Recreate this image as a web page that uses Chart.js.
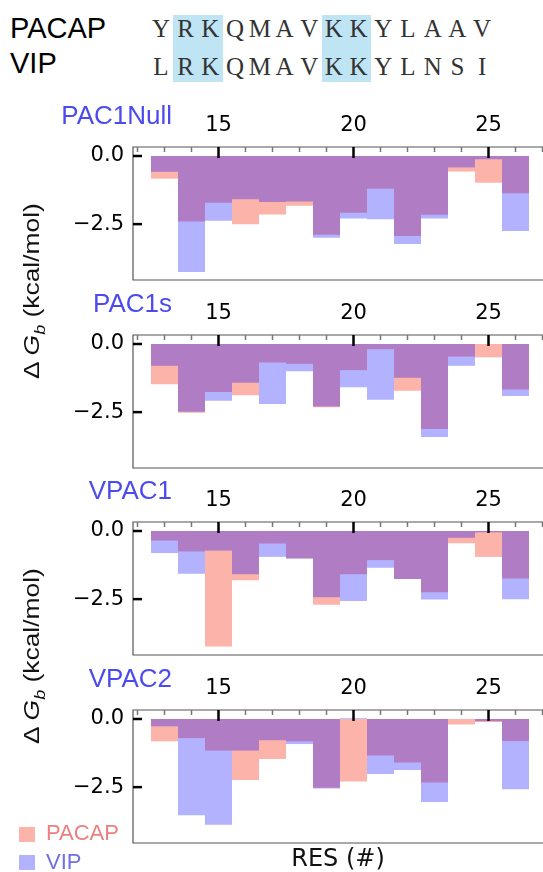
<!DOCTYPE html>
<html>
<head>
<meta charset="utf-8">
<script src="https://cdn.jsdelivr.net/npm/chart.js@4"></script>
<style>
  html, body { margin: 0; padding: 0; background: #fff; }
  body { position: relative; width: 543px; height: 872px; overflow: hidden; }
  .t { position: absolute; white-space: nowrap; }
  .hl { position: absolute; background: #bfe4f4; }
  canvas { position: absolute; left: 0; }
</style>
</head>
<body>
<script>
// residues 13..26 of the peptide
const residues = [13, 14, 15, 16, 17, 18, 19, 20, 21, 22, 23, 24, 25, 26];
const pacapSeq = ["Y", "R", "K", "Q", "M", "A", "V", "K", "K", "Y", "L", "A", "A", "V"];
const vipSeq = ["L", "R", "K", "Q", "M", "A", "V", "K", "K", "Y", "L", "N", "S", "I"];
const highlighted = [1, 2, 7, 8];

const panelNames = ["PAC1Null", "PAC1s", "VPAC1", "VPAC2"];

const pac1NullPACAP = [-0.83, -2.40, -1.72, -2.50, -2.15, -1.83, -2.89, -2.08, -1.20, -2.94, -2.16, -0.57, -0.98, -1.37];
const pac1NullVIP = [-0.58, -4.26, -2.38, -1.59, -1.69, -1.67, -3.00, -2.29, -2.32, -3.23, -2.29, -0.42, -0.12, -2.75];

const pac1sPACAP = [-1.48, -2.52, -1.76, -1.88, -0.68, -0.73, -2.32, -0.96, -0.19, -1.72, -3.12, -0.46, -0.49, -1.67];
const pac1sVIP = [-0.80, -2.49, -2.08, -1.42, -2.20, -1.00, -2.29, -1.59, -2.05, -1.24, -3.41, -0.80, 0.0, -1.91];

const vpac1PACAP = [-0.35, -0.75, -4.24, -1.81, -0.46, -1.01, -2.71, -1.59, -1.07, -1.76, -2.25, -0.45, -0.95, -1.74];
const vpac1VIP = [-0.81, -1.57, -0.72, -1.59, -0.95, -1.01, -2.43, -2.57, -1.35, -1.76, -2.51, -0.25, -0.05, -2.50];

const vpac2PACAP = [-0.82, -0.70, -1.16, -2.24, -1.47, -0.82, -2.52, -2.29, -1.34, -1.60, -2.33, -0.20, -0.11, -0.81];
const vpac2VIP = [-0.27, -3.53, -3.88, -1.16, -0.78, -0.92, -2.55, 0.03, -2.02, -1.87, -3.05, 0.0, -0.08, -2.58];

const xTickLabels = [15, 20, 25];
const yTickValues = [0, -2.5];

const pacapFill = "rgba(250,128,114,0.6)";
const vipFill = "rgba(0,0,255,0.3)";

// layout
const panelTops = [147, 335, 522, 710];
const plotH = 133;
const axisTop = 40;
const plotLeft = 133;
const canvasW = 548;
const unit = 27;
const X_MIN = 12.5 - 18 / unit;
const X_MAX = X_MIN + (canvasW - plotLeft) / unit;
const Y_MIN = -4.55;
const Y_MAX = 0.33;

function addText(txt, x, base, family, size, color, align) {
  const d = document.createElement("div");
  d.className = "t";
  d.textContent = txt;
  d.style.font = size + "px " + family;
  d.style.lineHeight = size + "px";
  d.style.color = color;
  d.style.left = x + "px";
  d.style.top = (base - 0.845 * size) + "px";
  if (align === "right") d.style.transform = "translateX(-100%)";
  if (align === "center") d.style.transform = "translateX(-50%)";
  document.body.appendChild(d);
  return d;
}

// sequence alignment header
const cellW = 24.7;
const cell0 = 161;
highlighted.forEach((i) => {
  if (highlighted.includes(i - 1)) return;
  const b = document.createElement("div");
  b.className = "hl";
  b.style.left = (cell0 + (i - 0.5) * cellW) + "px";
  b.style.width = (2 * cellW) + "px";
  b.style.top = "15px";
  b.style.height = "67px";
  document.body.appendChild(b);
});
addText("PACAP", 10, 39, "'Liberation Sans', Arial, sans-serif", 29, "#000", "left");
addText("VIP", 10, 74, "'Liberation Sans', Arial, sans-serif", 29, "#000", "left");
pacapSeq.forEach((c, i) => addText(c, cell0 + i * cellW, 37, "'Liberation Serif', serif", 25, "#333", "center"));
vipSeq.forEach((c, i) => addText(c, cell0 + i * cellW, 75, "'Liberation Serif', serif", 25, "#333", "center"));

// frame, inward ticks
const frame = {
  id: "frame",
  afterDatasetsDraw(chart) {
    const { ctx, chartArea: a, scales: { x, y } } = chart;
    ctx.save();
    ctx.strokeStyle = "#555";
    ctx.lineWidth = 1.2;
    ctx.beginPath();
    ctx.moveTo(a.right + 5, a.top);
    ctx.lineTo(a.left, a.top);
    ctx.lineTo(a.left, a.bottom);
    ctx.lineTo(a.right + 5, a.bottom);
    ctx.stroke();
    for (let v = Math.ceil(x.min); v <= x.max; v++) {
      const px = x.getPixelForValue(v);
      const major = xTickLabels.includes(v);
      ctx.strokeStyle = major ? "#000" : "#777";
      ctx.lineWidth = major ? 2.5 : 1.5;
      ctx.beginPath();
      ctx.moveTo(px, a.top);
      ctx.lineTo(px, a.top + (major ? 11 : 5));
      ctx.stroke();
    }
    ctx.strokeStyle = "#000";
    ctx.lineWidth = 2.5;
    yTickValues.forEach((v) => {
      const py = y.getPixelForValue(v);
      ctx.beginPath();
      ctx.moveTo(a.left, py);
      ctx.lineTo(a.left + 9, py);
      ctx.stroke();
    });
    ctx.restore();
  },
};

function noPad(s) {
  s.paddingTop = 0;
  s.paddingBottom = 0;
  s.paddingLeft = 0;
  s.paddingRight = 0;
}

function makePanel(top, pacapVals, vipVals) {
  const el = document.createElement("canvas");
  el.width = canvasW;
  el.height = axisTop + plotH + 4;
  el.style.top = (top - axisTop) + "px";
  document.body.appendChild(el);
  new Chart(el.getContext("2d"), {
    type: "bar",
    data: {
      datasets: [
        {
          label: "PACAP",
          data: residues.map((r, i) => ({ x: r, y: pacapVals[i] })),
          backgroundColor: pacapFill,
          order: 2,
        },
        {
          label: "VIP",
          data: residues.map((r, i) => ({ x: r, y: vipVals[i] })),
          backgroundColor: vipFill,
          order: 1,
        },
      ],
    },
    options: {
      responsive: false,
      animation: false,
      devicePixelRatio: 1,
      layout: { padding: { left: 0, right: 0, top: 0, bottom: 4 } },
      datasets: {
        bar: {
          grouped: false,
          barPercentage: 1,
          categoryPercentage: 1,
          borderWidth: 0,
          inflateAmount: 0,
        },
      },
      plugins: {
        legend: { display: false },
        tooltip: { enabled: false },
      },
      scales: {
        x: {
          type: "linear",
          position: "top",
          min: X_MIN,
          max: X_MAX,
          offset: false,
          grid: { display: false, drawTicks: false },
          border: { display: false },
          ticks: {
            color: "#000",
            font: { family: "'DejaVu Sans'", size: 21 },
            padding: 9,
            maxRotation: 0,
            autoSkip: false,
            callback: (v) => String(v),
          },
          afterBuildTicks: (s) => { s.ticks = xTickLabels.map((v) => ({ value: v })); },
          afterFit: (s) => { s.height = axisTop; noPad(s); },
        },
        y: {
          min: Y_MIN,
          max: Y_MAX,
          grid: { display: false, drawTicks: false },
          border: { display: false },
          ticks: {
            color: "#000",
            font: { family: "'DejaVu Sans'", size: 21 },
            padding: 9,
            callback: (v) => v.toFixed(1).replace("-", "\u2212"),
          },
          afterBuildTicks: (s) => { s.ticks = yTickValues.map((v) => ({ value: v })); },
          afterFit: (s) => { s.width = plotLeft; noPad(s); },
        },
      },
    },
    plugins: [frame],
  });
}

const panelData = [
  [pac1NullPACAP, pac1NullVIP],
  [pac1sPACAP, pac1sVIP],
  [vpac1PACAP, vpac1VIP],
  [vpac2PACAP, vpac2VIP],
];
panelData.forEach((d, k) => makePanel(panelTops[k], d[0], d[1]));

// panel titles
panelNames.forEach((n, k) =>
  addText(n, 172, panelTops[k] - 22.7, "'Liberation Sans', Arial, sans-serif", 26, "#4b4bef", "right")
);

// y axis labels
[291, 656].forEach((cy) => {
  const d = document.createElement("div");
  d.className = "t";
  d.style.font = "22px 'Liberation Sans', Arial, sans-serif";
  d.style.lineHeight = "22px";
  d.style.color = "#111";
  d.style.left = "36px";
  d.style.top = cy + "px";
  d.style.transform = "translate(-50%, -50%) rotate(-90deg) scaleX(1.2)";
  d.innerHTML = "\u0394 <i>G<sub style=\"font-size:15px\">b</sub></i> (kcal/mol)";
  document.body.appendChild(d);
});

// x axis label
addText("RES (#)", 338, 866.7, "'DejaVu Sans'", 24, "#111", "center");

// legend
[["PACAP", pacapFill, "#ec7f7f", 827, 841], ["VIP", vipFill, "#6f6fe6", 855, 870]].forEach(([name, fill, col, sy, base]) => {
  const s = document.createElement("div");
  s.className = "hl";
  s.style.background = fill;
  s.style.left = "19px";
  s.style.top = sy + "px";
  s.style.width = "16px";
  s.style.height = "15px";
  document.body.appendChild(s);
  addText(name, 46, base, "'Liberation Sans', Arial, sans-serif", 22, col, "left");
});
</script>
</body>
</html>
